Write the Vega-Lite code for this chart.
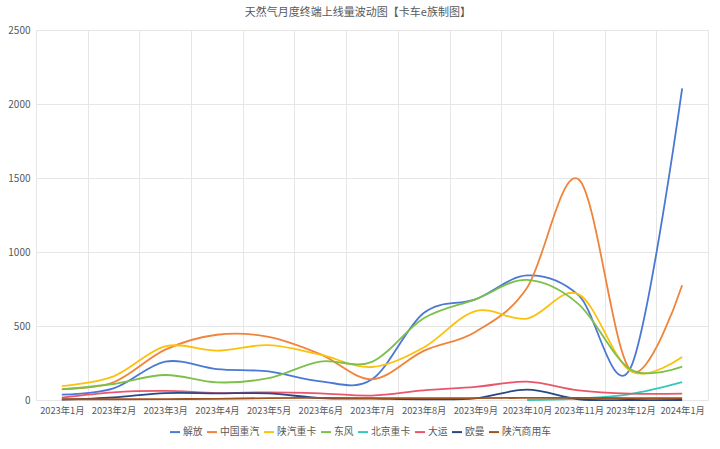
{
  "$schema": "https://vega.github.io/schema/vega-lite/v6.json",
  "width": 672,
  "height": 370,
  "autosize": {"type": "none"},
  "padding": {"left": 36, "top": 30, "right": 12, "bottom": 49},
  "background": "white",
  "title": {
    "text": "天然气月度终端上线量波动图【卡车e族制图】",
    "fontSize": 11,
    "fontWeight": "normal",
    "color": "#595959",
    "anchor": "middle",
    "frame": "bounds",
    "offset": 7
  },
  "data": {
    "values": [
      {"month": "2023年1月", "brand": "解放", "value": 36},
      {"month": "2023年2月", "brand": "解放", "value": 78},
      {"month": "2023年3月", "brand": "解放", "value": 259},
      {"month": "2023年4月", "brand": "解放", "value": 209},
      {"month": "2023年5月", "brand": "解放", "value": 193},
      {"month": "2023年6月", "brand": "解放", "value": 126},
      {"month": "2023年7月", "brand": "解放", "value": 140},
      {"month": "2023年8月", "brand": "解放", "value": 588},
      {"month": "2023年9月", "brand": "解放", "value": 680},
      {"month": "2023年10月", "brand": "解放", "value": 842},
      {"month": "2023年11月", "brand": "解放", "value": 707},
      {"month": "2023年12月", "brand": "解放", "value": 215},
      {"month": "2024年1月", "brand": "解放", "value": 2105},

      {"month": "2023年1月", "brand": "中国重汽", "value": 74},
      {"month": "2023年2月", "brand": "中国重汽", "value": 120},
      {"month": "2023年3月", "brand": "中国重汽", "value": 340},
      {"month": "2023年4月", "brand": "中国重汽", "value": 441},
      {"month": "2023年5月", "brand": "中国重汽", "value": 427},
      {"month": "2023年6月", "brand": "中国重汽", "value": 310},
      {"month": "2023年7月", "brand": "中国重汽", "value": 140},
      {"month": "2023年8月", "brand": "中国重汽", "value": 332},
      {"month": "2023年9月", "brand": "中国重汽", "value": 460},
      {"month": "2023年10月", "brand": "中国重汽", "value": 759},
      {"month": "2023年11月", "brand": "中国重汽", "value": 1490},
      {"month": "2023年12月", "brand": "中国重汽", "value": 200},
      {"month": "2024年1月", "brand": "中国重汽", "value": 775},

      {"month": "2023年1月", "brand": "陕汽重卡", "value": 94},
      {"month": "2023年2月", "brand": "陕汽重卡", "value": 160},
      {"month": "2023年3月", "brand": "陕汽重卡", "value": 362},
      {"month": "2023年4月", "brand": "陕汽重卡", "value": 333},
      {"month": "2023年5月", "brand": "陕汽重卡", "value": 371},
      {"month": "2023年6月", "brand": "陕汽重卡", "value": 306},
      {"month": "2023年7月", "brand": "陕汽重卡", "value": 223},
      {"month": "2023年8月", "brand": "陕汽重卡", "value": 355},
      {"month": "2023年9月", "brand": "陕汽重卡", "value": 601},
      {"month": "2023年10月", "brand": "陕汽重卡", "value": 550},
      {"month": "2023年11月", "brand": "陕汽重卡", "value": 714},
      {"month": "2023年12月", "brand": "陕汽重卡", "value": 196},
      {"month": "2024年1月", "brand": "陕汽重卡", "value": 290},

      {"month": "2023年1月", "brand": "东风", "value": 72},
      {"month": "2023年2月", "brand": "东风", "value": 108},
      {"month": "2023年3月", "brand": "东风", "value": 169},
      {"month": "2023年4月", "brand": "东风", "value": 119},
      {"month": "2023年5月", "brand": "东风", "value": 148},
      {"month": "2023年6月", "brand": "东风", "value": 260},
      {"month": "2023年7月", "brand": "东风", "value": 258},
      {"month": "2023年8月", "brand": "东风", "value": 552},
      {"month": "2023年9月", "brand": "东风", "value": 680},
      {"month": "2023年10月", "brand": "东风", "value": 811},
      {"month": "2023年11月", "brand": "东风", "value": 646},
      {"month": "2023年12月", "brand": "东风", "value": 207},
      {"month": "2024年1月", "brand": "东风", "value": 225},

      {"month": "2023年10月", "brand": "北京重卡", "value": 0},
      {"month": "2023年11月", "brand": "北京重卡", "value": 10},
      {"month": "2023年12月", "brand": "北京重卡", "value": 40},
      {"month": "2024年1月", "brand": "北京重卡", "value": 120},

      {"month": "2023年1月", "brand": "大运", "value": 16},
      {"month": "2023年2月", "brand": "大运", "value": 52},
      {"month": "2023年3月", "brand": "大运", "value": 61},
      {"month": "2023年4月", "brand": "大运", "value": 47},
      {"month": "2023年5月", "brand": "大运", "value": 52},
      {"month": "2023年6月", "brand": "大运", "value": 45},
      {"month": "2023年7月", "brand": "大运", "value": 30},
      {"month": "2023年8月", "brand": "大运", "value": 65},
      {"month": "2023年9月", "brand": "大运", "value": 88},
      {"month": "2023年10月", "brand": "大运", "value": 124},
      {"month": "2023年11月", "brand": "大运", "value": 65},
      {"month": "2023年12月", "brand": "大运", "value": 43},
      {"month": "2024年1月", "brand": "大运", "value": 43},

      {"month": "2023年1月", "brand": "欧曼", "value": 2},
      {"month": "2023年2月", "brand": "欧曼", "value": 18},
      {"month": "2023年3月", "brand": "欧曼", "value": 47},
      {"month": "2023年4月", "brand": "欧曼", "value": 45},
      {"month": "2023年5月", "brand": "欧曼", "value": 45},
      {"month": "2023年6月", "brand": "欧曼", "value": 13},
      {"month": "2023年7月", "brand": "欧曼", "value": 9},
      {"month": "2023年8月", "brand": "欧曼", "value": 5},
      {"month": "2023年9月", "brand": "欧曼", "value": 11},
      {"month": "2023年10月", "brand": "欧曼", "value": 70},
      {"month": "2023年11月", "brand": "欧曼", "value": 5},
      {"month": "2023年12月", "brand": "欧曼", "value": 0},
      {"month": "2024年1月", "brand": "欧曼", "value": 0},

      {"month": "2023年1月", "brand": "陕汽商用车", "value": 5},
      {"month": "2023年2月", "brand": "陕汽商用车", "value": 5},
      {"month": "2023年3月", "brand": "陕汽商用车", "value": 6},
      {"month": "2023年4月", "brand": "陕汽商用车", "value": 8},
      {"month": "2023年5月", "brand": "陕汽商用车", "value": 13},
      {"month": "2023年6月", "brand": "陕汽商用车", "value": 14},
      {"month": "2023年7月", "brand": "陕汽商用车", "value": 13},
      {"month": "2023年8月", "brand": "陕汽商用车", "value": 12},
      {"month": "2023年9月", "brand": "陕汽商用车", "value": 13},
      {"month": "2023年10月", "brand": "陕汽商用车", "value": 14},
      {"month": "2023年11月", "brand": "陕汽商用车", "value": 14},
      {"month": "2023年12月", "brand": "陕汽商用车", "value": 13},
      {"month": "2024年1月", "brand": "陕汽商用车", "value": 13}
    ]
  },
  "mark": {"type": "line", "interpolate": "cardinal", "strokeWidth": 1.8},
  "encoding": {
    "x": {
      "field": "month",
      "type": "ordinal",
      "bandPosition": 0.5,
      "sort": ["2023年1月", "2023年2月", "2023年3月", "2023年4月", "2023年5月", "2023年6月", "2023年7月", "2023年8月", "2023年9月", "2023年10月", "2023年11月", "2023年12月", "2024年1月"],
      "scale": {"type": "band", "paddingInner": 0, "paddingOuter": 0},
      "axis": {
        "title": null,
        "labelAngle": 0,
        "domain": false,
        "ticks": false,
        "grid": true,
        "tickBand": "extent",
        "labelPadding": 6,
        "labelFontSize": 9.3
      }
    },
    "y": {
      "field": "value",
      "type": "quantitative",
      "scale": {"domain": [0, 2500], "nice": false},
      "axis": {
        "title": null,
        "values": [0, 500, 1000, 1500, 2000, 2500],
        "format": "d",
        "domain": false,
        "ticks": false,
        "labelPadding": 6
      }
    },
    "color": {
      "field": "brand",
      "type": "nominal",
      "scale": {
        "domain": ["解放", "中国重汽", "陕汽重卡", "东风", "北京重卡", "大运", "欧曼", "陕汽商用车"],
        "range": ["#4a78d4", "#f0843a", "#fcc10c", "#7cc04a", "#35c6bc", "#e9566b", "#2b4684", "#a0521f"]
      },
      "legend": {
        "title": null,
        "orient": "none",
        "legendX": 133,
        "legendY": 396,
        "direction": "horizontal",
        "symbolType": "stroke",
        "symbolStrokeWidth": 2,
        "symbolSize": 100,
        "labelOffset": 2,
        "columnPadding": 0
      }
    }
  },
  "config": {
    "font": "Noto Sans CJK SC",
    "view": {"stroke": null},
    "axis": {
      "labelFont": "Noto Sans CJK SC",
      "labelFontSize": 10,
      "labelColor": "#595959",
      "gridColor": "#e6e6e6",
      "gridWidth": 1
    },
    "legend": {
      "labelFont": "Noto Sans CJK SC",
      "labelFontSize": 9.8,
      "labelColor": "#595959"
    },
    "title": {"font": "Noto Sans CJK SC"}
  }
}
